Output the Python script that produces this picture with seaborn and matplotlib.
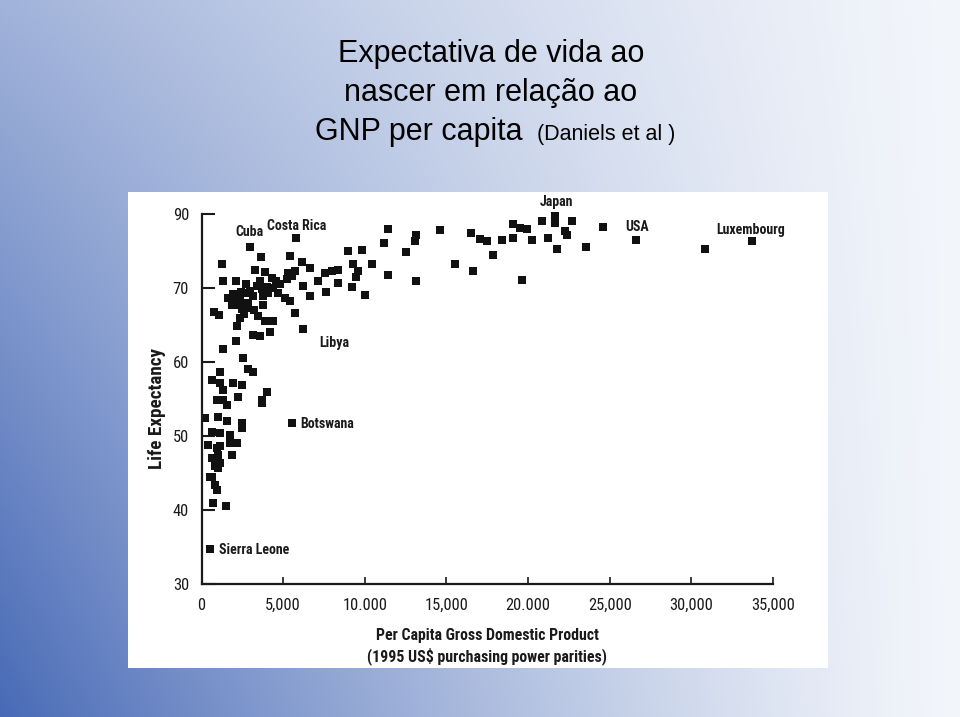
import os
import glob
import numpy as np
import pandas as pd
import matplotlib
matplotlib.use("Agg")
import matplotlib.pyplot as plt
from matplotlib.patches import Rectangle
from matplotlib import font_manager
from matplotlib.font_manager import FontProperties
import seaborn as sns

# ---------------- data ----------------
gdp = [
    # upper band
    2970, 5790, 1240, 1340, 2090, 2730, 3630, 3280, 3890, 4300, 4560, 5420, 5220, 5730,
    6140, 6650, 6230, 6650, 7150, 7560, 7970, 8380, 8380, 7620, 8990, 9810, 9300, 9600,
    9460, 9240, 10010, 10420, 11180, 11440, 11440, 12520, 13140, 13080, 13140, 14610,
    15530, 16500, 16610, 17060, 17470, 5320, 5520,
    # dense middle-income cluster
    770, 1090, 1640, 1850, 2360, 2560, 2160, 2870, 2460, 2360, 2190, 2770, 3170, 3690,
    3790, 3790, 3480, 3890, 4400, 4200, 3580, 3170, 4090, 4700, 5110, 5420, 5730, 6200,
    2400, 2000, 2800, 3000, 3400, 3600, 4000, 4400, 4800, 1900, 2600, 3200,
    # 55-62 band
    1340, 2110, 2520, 2870, 3170, 630, 1130, 1130, 1340, 1950, 2460, 3990, 3690, 2250,
    930, 1540, 3690,
    # low life expectancy
    210, 1340, 1030, 1540, 2460, 2460, 630, 1130, 1750, 420, 1130, 1750, 2160, 630,
    1030, 1130, 1850, 630, 830, 970, 720, 1500, 830, 1030, 930, 520,
    5520, 520,
    # high income
    17870, 18380, 19100, 19100, 19500, 19920, 20220, 19610, 20830, 21650, 21650, 21240,
    22260, 22370, 22670, 21750, 23550, 24570, 26610, 30840, 33690,
]
life = [
    75.6, 76.7, 73.2, 71.0, 71.0, 70.6, 74.2, 72.5, 72.1, 71.4, 71.0, 74.3, 71.2, 72.3,
    73.5, 72.7, 70.3, 68.9, 70.9, 72.0, 72.3, 72.5, 70.7, 69.4, 75.0, 75.1, 73.2, 72.3,
    71.5, 70.2, 69.0, 73.3, 76.1, 78.0, 71.7, 74.8, 77.2, 76.4, 70.9, 77.8,
    73.3, 77.5, 72.3, 76.6, 76.4, 72.0, 71.6,
    66.8, 66.4, 68.7, 67.7, 68.7, 68.0, 67.7, 68.0, 67.1, 65.9, 64.9, 69.3, 68.9, 69.8,
    68.9, 67.7, 66.2, 65.5, 65.5, 64.1, 63.5, 63.7, 69.3, 69.3, 68.7, 68.2, 66.6, 64.4,
    69.5, 68.3, 67.3, 69.6, 70.3, 71.0, 70.2, 70.0, 70.5, 69.2, 66.5, 67.0,
    61.7, 62.8, 60.5, 59.0, 58.7, 57.6, 58.7, 57.2, 56.2, 57.2, 56.9, 55.9, 54.5, 55.3,
    54.9, 54.2, 54.9,
    52.4, 54.9, 52.6, 52.0, 51.7, 51.1, 50.6, 50.4, 50.2, 48.8, 48.6, 49.0, 49.0, 47.0,
    47.5, 46.3, 47.5, 44.5, 43.4, 42.7, 40.9, 40.6, 45.9, 45.7, 48.4, 44.5,
    51.7, 34.7,
    74.4, 76.5, 78.6, 76.8, 78.1, 78.0, 76.5, 71.1, 79.0, 79.7, 78.8, 76.8,
    77.7, 77.2, 79.0, 75.3, 75.6, 78.3, 76.5, 75.3, 76.3,
]

label_names = ["Cuba", "Costa Rica", "Japan", "USA", "Luxembourg", "Libya",
               "Botswana", "Sierra Leone"]
label_x = [2910, 5850, 21710, 26670, 33650, 8110, 6030, 1070]
label_y = [77.5, 78.4, 81.6, 78.3, 77.9, 62.5, 51.6, 34.6]
label_ha = ["center", "center", "center", "center", "center", "center", "left", "left"]

xticks = [0, 5000, 10000, 15000, 20000, 25000, 30000, 35000]
xtick_labels = ["0", "5,000", "10.000", "15,000", "20.000", "25,000", "30,000", "35,000"]
yticks = [30, 40, 50, 60, 70, 80]
ytick_labels = ["30", "40", "50", "60", "70", "90"]

title_lines = ["Expectativa de vida ao", "nascer em relação ao", "GNP per capita"]
title_small = "(Daniels et al )"
xlabel = "Per Capita Gross Domestic Product\n(1995 US$ purchasing power parities)"
ylabel = "Life Expectancy"

# ---------------- fonts: look for a condensed sans face ----------------
def find_face(candidates):
    files = [f.fname for f in font_manager.fontManager.ttflist]
    for d in ("/usr/share/fonts", "/usr/local/share/fonts", os.path.expanduser("~/.fonts")):
        files += glob.glob(os.path.join(d, "**", "*.ttf"), recursive=True)
    base = {os.path.basename(p).lower(): p for p in files}
    for c in candidates:
        if c.lower() in base:
            return base[c.lower()]
    return None

reg_opts = [("LiberationSansNarrow-Regular.ttf", 1.0), ("RobotoCondensed-Regular.ttf", 0.95),
            ("DejaVuSansCondensed.ttf", 0.86)]
bold_opts = [("LiberationSansNarrow-Bold.ttf", 1.0), ("RobotoCondensed-Bold.ttf", 0.95),
             ("DejaVuSansCondensed-Bold.ttf", 0.86)]

def pick(opts, fallback_weight):
    for name, k in opts:
        p = find_face([name])
        if p:
            return (lambda size, p=p, k=k: FontProperties(fname=p, size=size * k))
    return (lambda size: FontProperties(family=["Liberation Sans", "DejaVu Sans"],
                                        weight=fallback_weight, size=size * 0.84))

fp_reg = pick(reg_opts, "normal")
fp_bold = pick(bold_opts, "bold")

# ---------------- style ----------------
sns.set_theme(style="white")
plt.rcParams["font.family"] = ["Liberation Sans", "DejaVu Sans"]

W, H = 960, 717
fig = plt.figure(figsize=(W / 100, H / 100), dpi=100)

# slide background: blue gradient fading to white on the right
bg = fig.add_axes([0, 0, 1, 1])
xx = np.linspace(0, 1, W)[None, :]
yy = np.linspace(0, 1, H)[:, None]
f = np.clip((1 - xx) ** 1.25 * (0.48 + 0.52 * yy), 0, 1)
light = np.array([243, 246, 251]) / 255
blue = np.array([72, 106, 182]) / 255
img = light[None, None, :] * (1 - f[..., None]) + blue[None, None, :] * f[..., None]
bg.imshow(img, aspect="auto", extent=[0, 1, 0, 1], origin="upper")
bg.add_patch(Rectangle((128 / W, 1 - 668 / H), 700 / W, 476 / H,
                       facecolor="white", edgecolor="none"))
bg.set_xlim(0, 1)
bg.set_ylim(0, 1)
bg.axis("off")

# title
tfont = ["Liberation Sans", "DejaVu Sans"]
fig.text(491 / W, 1 - 62 / H, title_lines[0], ha="center", va="baseline",
         fontsize=22, family=tfont, color="black")
fig.text(491 / W, 1 - 101 / H, title_lines[1], ha="center", va="baseline",
         fontsize=22, family=tfont, color="black")
fig.text(523 / W, 1 - 140 / H, title_lines[2], ha="right", va="baseline",
         fontsize=22, family=tfont, color="black")
fig.text(537 / W, 1 - 140 / H, title_small, ha="left", va="baseline",
         fontsize=15.5, family=tfont, color="black")

# scatter axes
ax = fig.add_axes([201.5 / W, (H - 584) / H, 571.5 / W, 370 / H])
ax.patch.set_alpha(0)
df = pd.DataFrame({"gdp": gdp, "life": life})
sns.scatterplot(data=df, x="gdp", y="life", ax=ax, marker="s", color="#111111",
                s=34, linewidth=0, clip_on=False)
ax.set_xlim(0, 35000)
ax.set_ylim(30, 80)
sns.despine(ax=ax)
for side in ("left", "bottom"):
    ax.spines[side].set_linewidth(1.6)
    ax.spines[side].set_color("#1a1a1a")

ax.set_xticks(xticks)
ax.set_xticklabels(xtick_labels)
ax.set_yticks(yticks)
ax.set_yticklabels(ytick_labels)
ax.tick_params(axis="y", direction="in", length=9, width=1.5, color="#1a1a1a",
               pad=9, labelcolor="#1a1a1a", left=True)
ax.tick_params(axis="x", direction="in", length=5, width=1.2, color="#1a1a1a",
               pad=10, labelcolor="#1a1a1a", bottom=True)
for lbl in ax.get_xticklabels() + ax.get_yticklabels():
    lbl.set_fontproperties(fp_reg(12.5))

ax.set_xlabel(xlabel, fontproperties=fp_bold(12), color="#1a1a1a",
              linespacing=1.3, va="top")
ax.xaxis.set_label_coords(0.5, -0.12)
ax.set_ylabel(ylabel, fontproperties=fp_bold(14.5), color="#1a1a1a")
ax.yaxis.set_label_coords(-0.062, 0.473)

for name, lx, ly, ha in zip(label_names, label_x, label_y, label_ha):
    ax.text(lx, ly, name, ha=ha, va="center", fontproperties=fp_bold(10.5),
            color="#1a1a1a")

fig.savefig("out.png", dpi=100)
